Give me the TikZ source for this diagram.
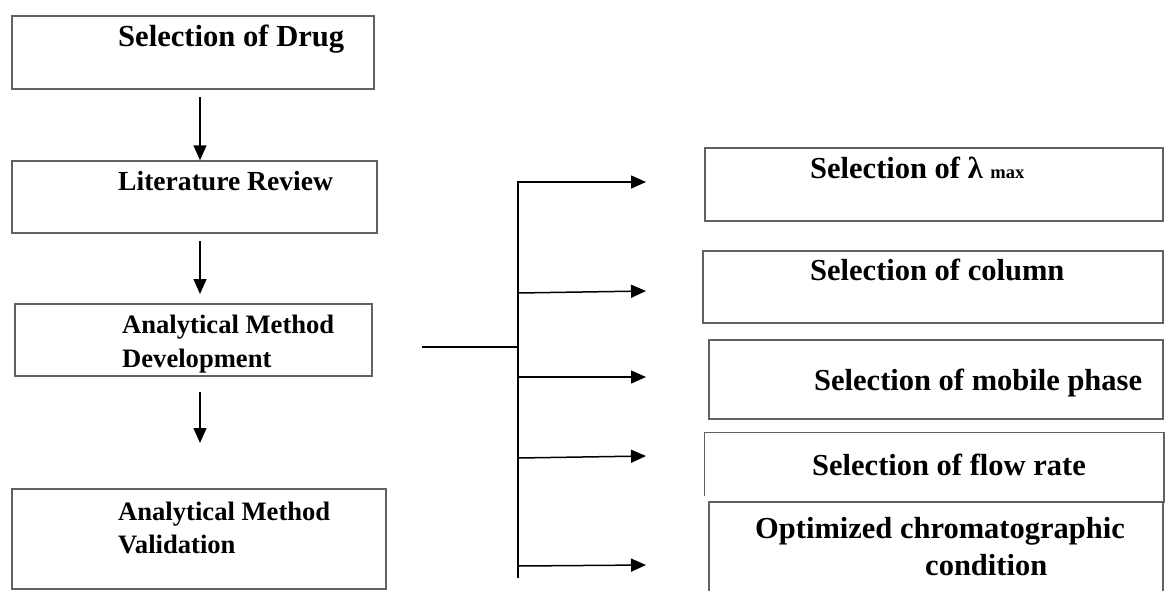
\documentclass[tikz,border=0pt]{standalone}
\usepackage{fontspec}
\setmainfont{Liberation Serif}
\usetikzlibrary{arrows.meta}
\begin{document}
\begin{tikzpicture}[x=1pt,y=-1pt,
  boxshape/.style={rectangle, draw=black!62, line width=1.5pt, inner sep=0pt},
  lbl/.style={anchor=base west, inner sep=0pt, text=black, font=\bfseries\fontsize{#1}{#1}\selectfont},
  conn/.style={line width=1.5pt, draw=black},
  arr/.style={conn, -{Triangle[length=15pt,width=13pt]}}]
\useasboundingbox (0,0) rectangle (1165,590);

% left column boxes
\node[boxshape, minimum width=362pt, minimum height=73pt] (b1) at (193,52.5) {};
\node[boxshape, minimum width=365pt, minimum height=72pt] (b2) at (194.5,197) {};
\node[boxshape, minimum width=357pt, minimum height=72pt] (b3) at (193.5,340) {};
\node[boxshape, minimum width=374pt, minimum height=100pt] (b4) at (199,539) {};

\node[lbl=30.6] (t1) at (118,46) {Selection of Drug};
\node[lbl=27.6] (t2) at (118,190) {Literature Review};
\node[lbl=26.6] (t3a) at (122,333) {Analytical Method};
\node[lbl=26.6] (t3b) at (122,367) {Development};
\node[lbl=26.6] (t4a) at (118,520) {Analytical Method};
\node[lbl=26.6] (t4b) at (118,553) {Validation};

% left arrows
\coordinate (a1) at (200,97);
\coordinate (a2) at (200,241);
\coordinate (a2e) at (200,294);
\coordinate (a3) at (200,392);
\coordinate (a3e) at (200,443);
\draw[arr] (a1) -- (a1 |- b2.north);
\draw[arr] (a2) -- (a2e);
\draw[arr] (a3) -- (a3e);

% bracket
\coordinate (hs) at (422,347);
\coordinate (hub) at (518,347);
\coordinate (vt) at (518,181);
\coordinate (vb) at (518,578);
\draw[conn] (hs) -- (hub);
\draw[conn] (vt) -- (vb);

\coordinate (s1) at (518,182); \coordinate (e1) at (646,182);
\coordinate (s2) at (518,293); \coordinate (e2) at (646,291);
\coordinate (s3) at (518,377); \coordinate (e3) at (646,377);
\coordinate (s4) at (518,458); \coordinate (e4) at (646,456);
\coordinate (s5) at (518,566); \coordinate (e5) at (646,565);
\draw[arr] (s1) -- (e1);
\draw[arr] (s2) -- (e2);
\draw[arr] (s3) -- (e3);
\draw[arr] (s4) -- (e4);
\draw[arr] (s5) -- (e5);

% right column boxes
\node[boxshape, minimum width=458pt, minimum height=73pt] (r1) at (934,184.5) {};
\node[boxshape, minimum width=460pt, minimum height=72pt] (r2) at (933,287) {};
\node[boxshape, minimum width=454pt, minimum height=79pt] (r3) at (936,379.5) {};
\node[boxshape, draw=none, minimum width=458pt, minimum height=69pt] (r4) at (934,467.5) {};
\draw[draw=black!62, line width=1.5pt] ([yshift=7pt]r4.south west) -- (r4.north west) -- (r4.north east) -- (r4.south east);
\node[boxshape, fill=white, minimum width=454pt, minimum height=92pt] (r5) at (936,548) {};

\node[lbl=30.5] (u1) at (810,178) {Selection of λ {\fontsize{18.5}{18.5}\selectfont max}};
\node[lbl=30.5] (u2) at (810,280) {Selection of column};
\node[lbl=30.5] (u3) at (814,390) {Selection of mobile phase};
\node[lbl=30.5] (u4) at (812,475) {Selection of flow rate};
\node[lbl=30.5] (u5a) at (755,538) {Optimized chromatographic};
\node[lbl=30.5] (u5b) at (925,575) {condition};
\end{tikzpicture}
\end{document}
